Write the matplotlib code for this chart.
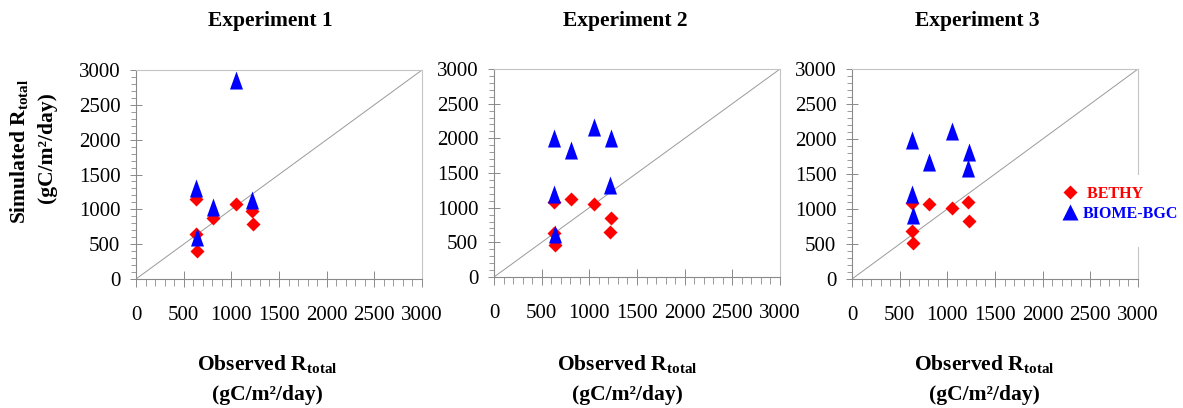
import numpy as np
import matplotlib
matplotlib.use("Agg")
import matplotlib.pyplot as plt
from matplotlib.lines import Line2D
from matplotlib.patches import Rectangle
from matplotlib.ticker import MultipleLocator

plt.rcParams["font.family"] = ["Liberation Serif", "DejaVu Serif"]
plt.rcParams["mathtext.fontset"] = "custom"
plt.rcParams["mathtext.rm"] = "Liberation Serif"
plt.rcParams["mathtext.bf"] = "Liberation Serif:bold"

# Observed total respiration per site (gC/m2/day)
observed = [628, 628, 643, 812, 1048, 1213, 1228]

# Simulated total respiration per experiment and model (NaN = not shown)
bethy_exp1 = [1150, 650, 400, 870, 1080, 980, 785]
bethy_exp2 = [1080, 640, 460, 1130, 1060, 650, 850]
bethy_exp3 = [1080, 690, 510, 1070, 1020, 1100, 830]

biome_exp1 = [1300, np.nan, 600, 1040, 2850, 1135, np.nan]
biome_exp2 = [2000, 1200, 620, 1830, 2170, 1320, 2000]
biome_exp3 = [1980, 1210, 910, 1670, 2120, 1580, 1810]

titles = ["Experiment 1", "Experiment 2", "Experiment 3"]
series_labels = [" BETHY", "BIOME-BGC"]
tick_values = [0, 500, 1000, 1500, 2000, 2500, 3000]

bethy = [bethy_exp1, bethy_exp2, bethy_exp3]
biome = [biome_exp1, biome_exp2, biome_exp3]

W, H = 1183, 408
fig = plt.figure(figsize=(W / 100, H / 100), dpi=100, facecolor="white")

# panel frames in pixels: (left, right, top, bottom)
frames = [(136, 422, 70, 279), (494, 780, 69, 277), (852, 1138, 69, 279)]
title_x = [270, 625, 977]
xlabel_x = [267, 627, 984]

tall_triangle = [(0, 1), (-0.72, -1), (0.72, -1), (0, 1)]
dark = "#8a8a8a"
light = "#c4c4c4"

axes = []
for i, (l, r, t, b) in enumerate(frames):
    ax = fig.add_axes([l / W, 1 - b / H, (r - l) / W, (b - t) / H])
    axes.append(ax)
    ax.set_xlim(0, 3000)
    ax.set_ylim(0, 3000)
    ax.plot([0, 3000], [0, 3000], color="#9a9a9a", lw=0.7, zorder=1)
    ax.plot(observed, bethy[i], ls="none", marker="D", ms=7.4,
            color="#ff0000", mec="none", zorder=3)
    ax.plot(observed, biome[i], ls="none", marker=tall_triangle, ms=13,
            color="#0000ff", mec="none", zorder=4)

    for side in ("left", "bottom"):
        ax.spines[side].set_color(dark)
        ax.spines[side].set_linewidth(0.8)
    for side in ("top", "right"):
        ax.spines[side].set_color(light)
        ax.spines[side].set_linewidth(0.8)

    ax.set_xticks(tick_values)
    ax.set_yticks(tick_values)
    ax.xaxis.set_minor_locator(MultipleLocator(100))
    ax.yaxis.set_minor_locator(MultipleLocator(100))
    ax.tick_params(axis="y", which="major", direction="inout", length=8.5,
                   width=0.7, color=dark, pad=7, labelsize=15)
    ax.tick_params(axis="y", which="minor", direction="out", length=3.5,
                   width=0.6, color=dark)
    ax.tick_params(axis="x", which="major", direction="inout", length=11.5,
                   width=0.7, color=dark, pad=14, labelsize=15)
    ax.tick_params(axis="x", which="minor", direction="out", length=5,
                   width=0.6, color=dark)

    fig.text(title_x[i] / W, 1 - 21 / H, titles[i], ha="center", va="center",
             fontsize=15.5, fontweight="bold")
    fig.text(xlabel_x[i] / W, 1 - 365 / H, r"Observed R$_{\mathbf{total}}$",
             ha="center", va="center", fontsize=15.5, fontweight="bold")
    fig.text(xlabel_x[i] / W, 1 - 395 / H, "(gC/m\u00b2/day)",
             ha="center", va="center", fontsize=15.5, fontweight="bold")

fig.text(20 / W, 1 - 151 / H, r"Simulated R$_{\mathbf{total}}$", rotation=90,
         ha="center", va="center", fontsize=15.5, fontweight="bold")
fig.text(47 / W, 1 - 148 / H, "(gC/m\u00b2/day)", rotation=90,
         ha="center", va="center", fontsize=15.5, fontweight="bold")

# legend on a white panel over the right side of the last chart
ax3 = axes[2]
ax3.add_patch(Rectangle((1043 / W, 1 - 247 / H), 114 / W, 72 / H,
                        transform=fig.transFigure, facecolor="white",
                        edgecolor="none", clip_on=False, zorder=4.5))
handles = [
    Line2D([], [], ls="none", marker="D", ms=7.5, color="#ff0000", mec="none"),
    Line2D([], [], ls="none", marker="^", ms=11, color="#0000ff", mec="none"),
]
leg = ax3.legend(handles, series_labels, loc="center left",
                 bbox_to_anchor=(1060 / W, 1 - 204 / H),
                 bbox_transform=fig.transFigure, frameon=False,
                 borderpad=0, borderaxespad=0, handlelength=1.2,
                 handletextpad=0.25, labelspacing=0.25,
                 prop={"family": "Liberation Serif", "weight": "bold",
                       "size": 11.5})
leg.set_zorder(6)
for txt, c in zip(leg.get_texts(), ["#ff0000", "#0000ff"]):
    txt.set_color(c)

fig.savefig("out.png", dpi=100, facecolor="white")
